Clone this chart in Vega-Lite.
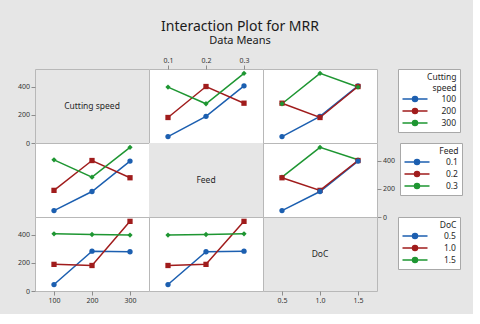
{
  "$schema": "https://vega.github.io/schema/vega-lite/v6.json",
  "background": "#e6e6e6",
  "padding": {"left": 16, "top": 20, "right": 10, "bottom": 10},
  "title": {
    "text": "Interaction Plot for MRR",
    "subtitle": "Data Means",
    "anchor": "middle",
    "font": "Noto Sans",
    "fontSize": 14,
    "fontWeight": "normal",
    "color": "#1a1a1a",
    "subtitleFont": "Noto Sans",
    "subtitleFontSize": 11,
    "subtitleColor": "#1a1a1a",
    "subtitlePadding": 1,
    "offset": 10
  },
  "datasets": {
    "runs": [
      {"Cutting speed": 100, "Feed": "0.1", "DoC": "0.5", "MRR": 46},
      {"Cutting speed": 100, "Feed": "0.2", "DoC": "1.0", "MRR": 190},
      {"Cutting speed": 100, "Feed": "0.3", "DoC": "1.5", "MRR": 408},
      {"Cutting speed": 200, "Feed": "0.1", "DoC": "1.0", "MRR": 182},
      {"Cutting speed": 200, "Feed": "0.2", "DoC": "1.5", "MRR": 403},
      {"Cutting speed": 200, "Feed": "0.3", "DoC": "0.5", "MRR": 284},
      {"Cutting speed": 300, "Feed": "0.1", "DoC": "1.5", "MRR": 399},
      {"Cutting speed": 300, "Feed": "0.2", "DoC": "0.5", "MRR": 280},
      {"Cutting speed": 300, "Feed": "0.3", "DoC": "1.0", "MRR": 497}
    ]
  },
  "columns": 3,
  "spacing": 0,
  "bounds": "flush",
  "resolve": {
    "scale": {"color": "independent", "shape": "independent"},
    "legend": {"color": "independent", "shape": "independent"}
  },
  "config": {
    "font": "Noto Sans",
    "view": {"stroke": "#b8b8b8", "strokeWidth": 1, "fill": "#ffffff"},
    "axis": {
      "grid": false,
      "domain": false,
      "labelFont": "Noto Sans",
      "labelFontSize": 7,
      "labelColor": "#333333",
      "tickColor": "#8c8c8c",
      "tickSize": 4,
      "labelPadding": 1.5,
      "labelFlush": false,
      "labelAngle": 0
    },
    "legend": {
      "fillColor": "#ffffff",
      "strokeColor": "#a8a8a8",
      "padding": 3.5,
      "titleFont": "Noto Sans",
      "titleFontSize": 8.5,
      "titleFontWeight": "normal",
      "titleColor": "#262626",
      "titleAlign": "right",
      "titleAnchor": "end",
      "titlePadding": 1,
      "titleLineHeight": 11,
      "labelFont": "Noto Sans",
      "labelFontSize": 8.5,
      "labelColor": "#262626",
      "labelAlign": "right",
      "labelOffset": 35,
      "symbolType": "M-2.5,0H2.5M-0.5,0A0.5,0.5,0,1,1,0.5,0A0.5,0.5,0,1,1,-0.5,0Z",
      "symbolSize": 100,
      "symbolOffset": 7.5,
      "symbolStrokeWidth": 1.5,
      "symbolOpacity": 1,
      "rowPadding": 0
    }
  },
  "concat": [
    {
      "width": 114,
      "height": 74,
      "view": {"fill": "#e6e6e6"},
      "data": {"values": [{"label": "Cutting speed"}]},
      "layer": [
        {"mark": {"type": "text", "fontSize": 8.5, "color": "#262626"}, "encoding": {"text": {"field": "label"}}},
        {"mark": {"type": "rule", "opacity": 0}, "encoding": {"y": {"datum": 0, "type": "quantitative", "scale": {"domain": [0, 528], "nice": false}, "axis": {"orient": "left", "values": [0, 200, 400], "title": null}}}}
      ]
    },
    {
      "width": 114,
      "height": 74,
      "data": {"name": "runs"},
      "encoding": {
        "x": {"field": "Feed", "type": "ordinal", "scale": {"type": "point", "padding": 0.5}, "axis": {"orient": "top", "title": null}},
        "y": {"field": "MRR", "type": "quantitative", "scale": {"domain": [0, 528], "nice": false}, "axis": null},
        "color": {"field": "Cutting speed", "type": "nominal", "scale": {"range": ["#1c5fb0", "#a01c1c", "#1e9632"]}, "legend": null}
      },
      "layer": [
        {"mark": {"type": "line", "strokeWidth": 1.5}},
        {"mark": {"type": "point", "filled": true, "opacity": 1, "size": 28}, "encoding": {"shape": {"field": "Cutting speed", "type": "nominal", "scale": {"range": ["circle", "square", "diamond"]}, "legend": null}}}
      ]
    },
    {
      "width": 114,
      "height": 74,
      "data": {"name": "runs"},
      "encoding": {
        "x": {"field": "DoC", "type": "ordinal", "scale": {"type": "point", "padding": 0.5}, "axis": null},
        "y": {"field": "MRR", "type": "quantitative", "scale": {"domain": [0, 528], "nice": false}, "axis": null},
        "color": {"field": "Cutting speed", "type": "nominal", "scale": {"range": ["#1c5fb0", "#a01c1c", "#1e9632"]}, "legend": {"title": ["Cutting", "speed"], "orient": "right", "offset": 21}}
      },
      "layer": [
        {"mark": {"type": "line", "strokeWidth": 1.5}},
        {"mark": {"type": "point", "filled": true, "opacity": 1, "size": 28}, "encoding": {"shape": {"field": "Cutting speed", "type": "nominal", "scale": {"range": ["circle", "square", "diamond"]}, "legend": null}}}
      ]
    },
    {
      "width": 114,
      "height": 74,
      "data": {"name": "runs"},
      "encoding": {
        "x": {"field": "Cutting speed", "type": "ordinal", "scale": {"type": "point", "padding": 0.5}, "axis": null},
        "y": {"field": "MRR", "type": "quantitative", "scale": {"domain": [0, 528], "nice": false}, "axis": null},
        "color": {"field": "Feed", "type": "nominal", "scale": {"range": ["#1c5fb0", "#a01c1c", "#1e9632"]}, "legend": null}
      },
      "layer": [
        {"mark": {"type": "line", "strokeWidth": 1.5}},
        {"mark": {"type": "point", "filled": true, "opacity": 1, "size": 28}, "encoding": {"shape": {"field": "Feed", "type": "nominal", "scale": {"range": ["circle", "square", "diamond"]}, "legend": null}}}
      ]
    },
    {
      "width": 114,
      "height": 74,
      "view": {"fill": "#e6e6e6"},
      "data": {"values": [{"label": "Feed"}]},
      "mark": {"type": "text", "fontSize": 8.5, "color": "#262626"},
      "encoding": {"text": {"field": "label"}}
    },
    {
      "width": 114,
      "height": 74,
      "data": {"name": "runs"},
      "encoding": {
        "x": {"field": "DoC", "type": "ordinal", "scale": {"type": "point", "padding": 0.5}, "axis": null},
        "y": {"field": "MRR", "type": "quantitative", "scale": {"domain": [0, 528], "nice": false}, "axis": {"orient": "right", "values": [0, 200, 400], "title": null}},
        "color": {"field": "Feed", "type": "nominal", "scale": {"range": ["#1c5fb0", "#a01c1c", "#1e9632"]}, "legend": {"title": "Feed", "orient": "right", "offset": 5}}
      },
      "layer": [
        {"mark": {"type": "line", "strokeWidth": 1.5}},
        {"mark": {"type": "point", "filled": true, "opacity": 1, "size": 28}, "encoding": {"shape": {"field": "Feed", "type": "nominal", "scale": {"range": ["circle", "square", "diamond"]}, "legend": null}}}
      ]
    },
    {
      "width": 114,
      "height": 74,
      "data": {"name": "runs"},
      "encoding": {
        "x": {"field": "Cutting speed", "type": "ordinal", "scale": {"type": "point", "padding": 0.5}, "axis": {"orient": "bottom", "title": null}},
        "y": {"field": "MRR", "type": "quantitative", "scale": {"domain": [0, 528], "nice": false}, "axis": {"orient": "left", "values": [0, 200, 400], "title": null}},
        "color": {"field": "DoC", "type": "nominal", "scale": {"range": ["#1c5fb0", "#a01c1c", "#1e9632"]}, "legend": null}
      },
      "layer": [
        {"mark": {"type": "line", "strokeWidth": 1.5}},
        {"mark": {"type": "point", "filled": true, "opacity": 1, "size": 28}, "encoding": {"shape": {"field": "DoC", "type": "nominal", "scale": {"range": ["circle", "square", "diamond"]}, "legend": null}}}
      ]
    },
    {
      "width": 114,
      "height": 74,
      "data": {"name": "runs"},
      "encoding": {
        "x": {"field": "Feed", "type": "ordinal", "scale": {"type": "point", "padding": 0.5}, "axis": null},
        "y": {"field": "MRR", "type": "quantitative", "scale": {"domain": [0, 528], "nice": false}, "axis": null},
        "color": {"field": "DoC", "type": "nominal", "scale": {"range": ["#1c5fb0", "#a01c1c", "#1e9632"]}, "legend": null}
      },
      "layer": [
        {"mark": {"type": "line", "strokeWidth": 1.5}},
        {"mark": {"type": "point", "filled": true, "opacity": 1, "size": 28}, "encoding": {"shape": {"field": "DoC", "type": "nominal", "scale": {"range": ["circle", "square", "diamond"]}, "legend": null}}}
      ]
    },
    {
      "width": 114,
      "height": 74,
      "view": {"fill": "#e6e6e6"},
      "layer": [
        {
          "data": {"values": [{"label": "DoC"}]},
          "mark": {"type": "text", "fontSize": 8.5, "color": "#262626"},
          "encoding": {"text": {"field": "label"}}
        },
        {
          "data": {"name": "runs"},
          "encoding": {
            "x": {"field": "DoC", "type": "ordinal", "scale": {"type": "point", "padding": 0.5}, "axis": {"orient": "bottom", "title": null}},
            "y": {"field": "MRR", "type": "quantitative", "scale": {"domain": [0, 528], "nice": false}, "axis": null},
            "color": {"field": "DoC", "type": "nominal", "scale": {"range": ["#1c5fb0", "#a01c1c", "#1e9632"]}, "legend": {"title": "DoC", "orient": "right", "offset": 21}}
          },
          "layer": [
            {"mark": {"type": "line", "strokeWidth": 1.5, "opacity": 0}},
            {"mark": {"type": "point", "filled": true, "opacity": 0, "size": 28}}
          ]
        }
      ]
    }
  ]
}
